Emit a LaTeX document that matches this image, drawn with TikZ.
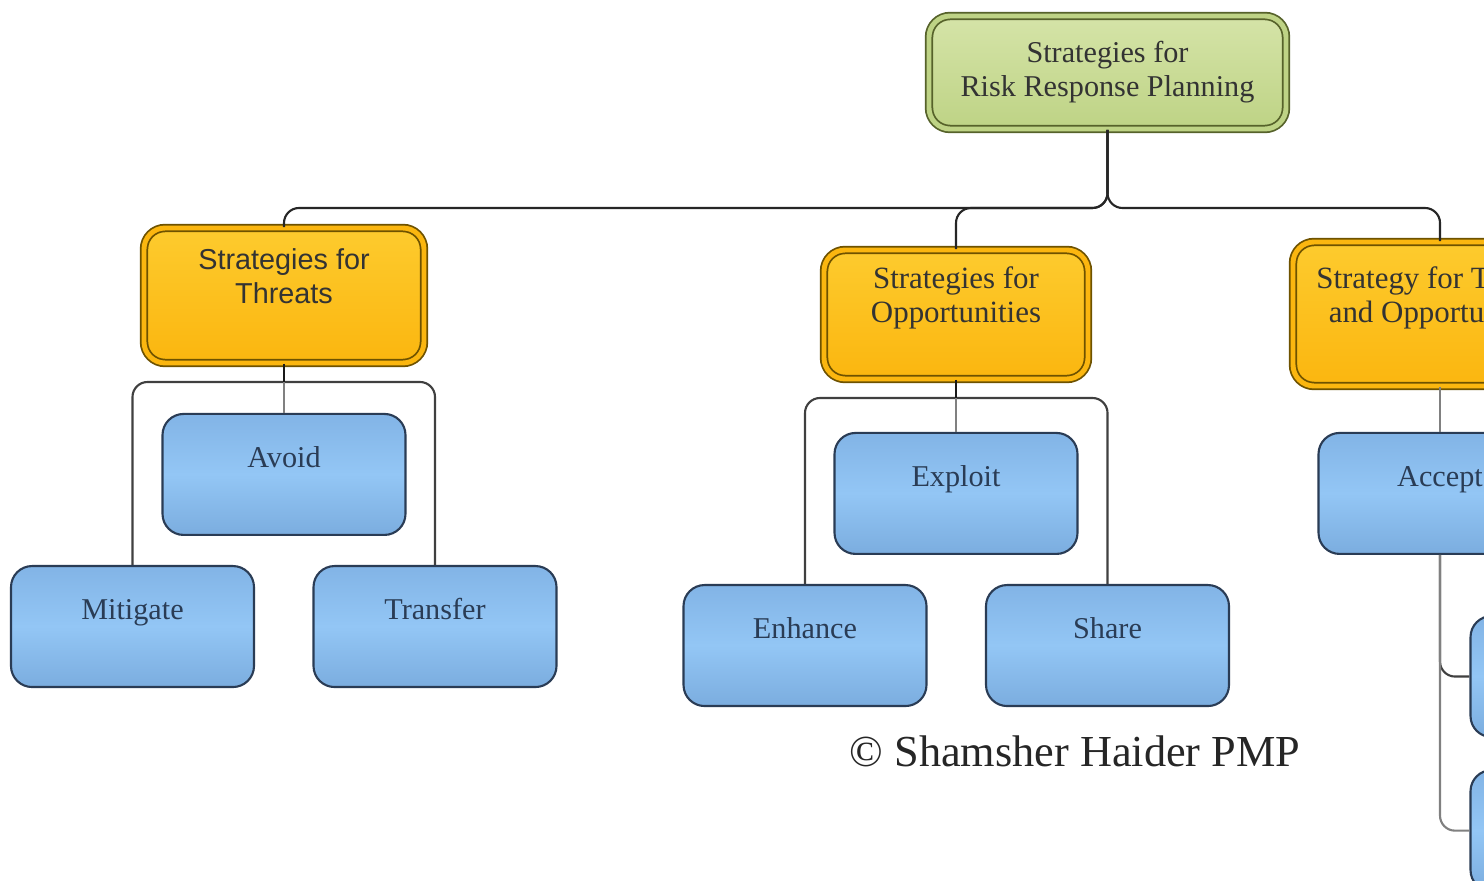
\documentclass[tikz,border=0pt]{standalone}
\usepackage{fontspec}
\setmainfont{Liberation Serif}
\setsansfont{Liberation Sans}
\usetikzlibrary{positioning}

\definecolor{goaltop}{HTML}{D5E4A8}
\definecolor{goalbot}{HTML}{BED385}
\definecolor{goalline}{HTML}{56622A}
\definecolor{grptop}{HTML}{FDCB2E}
\definecolor{grpbot}{HTML}{FBB60F}
\definecolor{grpline}{HTML}{6E5200}
\definecolor{leaftop}{HTML}{82B4E6}
\definecolor{leafmid}{HTML}{93C6F5}
\definecolor{leafbot}{HTML}{7BADDF}
\definecolor{leafline}{HTML}{2A3C55}

\begin{document}
\begin{tikzpicture}[
  font=\rmfamily,
  goalbox/.style={rectangle, rounded corners=6pt, draw=goalline, line width=0.5pt, double=goalbot, double distance=1.4pt, top color=goaltop, bottom color=goalbot, minimum width=3.57cm, minimum height=1.13cm, align=center, text=black!80, font=\rmfamily\fontsize{8.6}{9.7}\selectfont},
  groupbox/.style={rectangle, rounded corners=6pt, draw=grpline, line width=0.5pt, double=grpbot, double distance=1.4pt, top color=grptop, bottom color=grpbot, align=center, text depth=0.39cm, text=black!80, font=\rmfamily\fontsize{8.8}{9.7}\selectfont},
  leafbox/.style={rectangle, rounded corners=6pt, draw=leafline, line width=0.6pt, top color=leaftop, bottom color=leafbot, middle color=leafmid, minimum width=2.43cm, minimum height=1.21cm, text height=0.22cm, text depth=0.36cm, text=leafline, font=\rmfamily\fontsize{8.6}{9.7}\selectfont},
  link/.style={draw=black!75, line width=0.6pt, rounded corners=0.15cm},
  stem/.style={draw=black!50, line width=0.6pt},
  credit/.style={text=black!85, font=\rmfamily\fontsize{12.6}{14}\selectfont}
]
\useasboundingbox (0,0) rectangle (14.84,-8.81);
\clip (0,0) rectangle (14.84,-8.81);
\fill[white] (0,0) rectangle (14.84,-8.81);

% top of the tree
\node[goalbox] (root) at (11.075,-0.725) {Strategies for\\Risk Response Planning};

% the three groups
\node[groupbox, minimum width=2.80cm, minimum height=1.35cm, font=\sffamily\fontsize{8.2}{9.7}\selectfont] (threats) at (2.84,-2.955) {Strategies for\\Threats};
\node[groupbox, minimum width=2.64cm, minimum height=1.29cm] (opps) at (9.56,-3.145) {Strategies for\\Opportunities};
\node[groupbox, minimum width=2.94cm, minimum height=1.44cm] (both) at (14.40,-3.14) {Strategy for Threats\\and Opportunities};

% responses for threats
\node[leafbox, below=0.49cm of threats] (avoid) {Avoid};
\node[leafbox, below=0.29cm of avoid.south, xshift=-1.515cm] (mitigate) {Mitigate};
\node[leafbox, below=0.29cm of avoid.south, xshift=1.51cm] (transfer) {Transfer};

% responses for opportunities
\node[leafbox, below=0.52cm of opps] (exploit) {Exploit};
\node[leafbox, below=0.29cm of exploit.south, xshift=-1.51cm] (enhance) {Enhance};
\node[leafbox, below=0.29cm of exploit.south, xshift=1.515cm] (share) {Share};

% responses for both
\node[leafbox, below=0.45cm of both] (accept) {Accept};
\node[leafbox, below=0.60cm of accept.south, xshift=1.52cm] (active) {};
\node[leafbox, below=0.31cm of active] (passive) {};

\node[credit] (credit) at (10.75,-7.51) {\textcopyright{} Shamsher Haider PMP};

% connectors
\coordinate (bus) at (11.075,-2.08);
\coordinate (tbus) at (2.84,-3.82);
\coordinate (obus) at (9.56,-3.98);
\draw[link, draw=black!85] (root.south) -- (bus) -| (threats.north);
\draw[link, draw=black!85] (root.south) -- (bus) -| (opps.north);
\draw[link, draw=black!85] (root.south) -- (bus) -| (both.north);

\draw[link] (mitigate.north) |- (tbus) -| (transfer.north);
\draw[stem] (threats.south) -- (avoid.north);
\draw[link, draw=black!90] (threats.south) -- (tbus);

\draw[link] (enhance.north) |- (obus) -| (share.north);
\draw[stem] (opps.south) -- (exploit.north);
\draw[link, draw=black!90] (opps.south) -- (obus);

\draw[stem] (both.south) -- (accept.north);
\draw[link] (accept.south) |- (active.west);
\draw[link, draw=black!50] (accept.south) |- (passive.west);
\end{tikzpicture}
\end{document}
